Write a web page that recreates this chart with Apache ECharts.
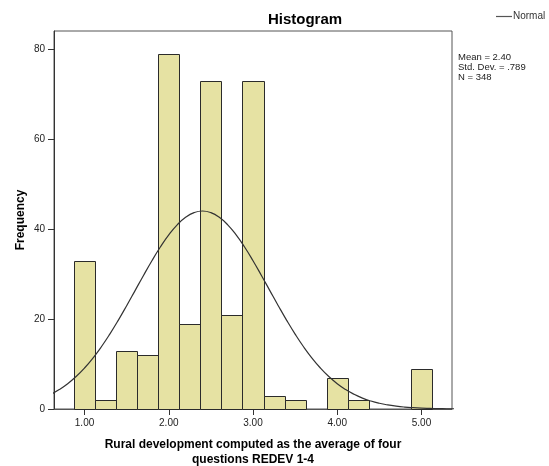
<!DOCTYPE html>
<html>
<head>
<meta charset="utf-8">
<script src="https://cdn.jsdelivr.net/npm/echarts@6/dist/echarts.min.js"></script>
<style>html,body{margin:0;padding:0;background:#fff;}#c{width:549px;height:466px;}</style>
</head>
<body>
<div id="c"></div>
<script>
// Histogram bins (centers) and frequencies
const binCenters = [1.00, 1.25, 1.50, 1.75, 2.00, 2.25, 2.50, 2.75, 3.00, 3.25, 3.50, 3.75, 4.00, 4.25, 4.50, 4.75, 5.00];
const frequencies = [33, 2, 13, 12, 79, 19, 73, 21, 73, 3, 2, 0, 7, 2, 0, 0, 9];
const binWidth = 0.25;

// Normal curve points
const normalX = [0.6, 0.7, 0.8, 0.9, 1.0, 1.1, 1.2, 1.3, 1.4, 1.5, 1.6, 1.7, 1.8, 1.9, 2.0, 2.1, 2.2, 2.3, 2.4,
  2.5, 2.6, 2.7, 2.8, 2.9, 3.0, 3.1, 3.2, 3.3, 3.4, 3.5, 3.6, 3.7, 3.8, 3.9, 4.0, 4.1, 4.2, 4.3, 4.4, 4.5,
  4.6, 4.7, 4.8, 4.9, 5.0, 5.1, 5.2, 5.3, 5.4];
const normalY = [3.26, 4.32, 5.63, 7.22, 9.11, 11.32, 13.84, 16.65, 19.70, 22.95, 26.31, 29.68, 32.95, 35.99, 38.69, 40.92, 42.60, 43.64, 44.0,
  43.64, 42.60, 40.92, 38.69, 35.99, 32.95, 29.68, 26.31, 22.95, 19.70, 16.65, 13.84, 11.32, 9.11, 7.22, 5.63, 4.32, 3.26, 2.42, 1.77, 1.27,
  0.90, 0.63, 0.43, 0.29, 0.19, 0.13, 0.08, 0.05, 0.03];

const xTicks = [1, 2, 3, 4, 5];
const yTicks = [0, 20, 40, 60, 80];
const statLines = ['Mean = 2.40', 'Std. Dev. = .789', 'N = 348'];

const FONT = '"Liberation Sans", Arial, sans-serif';
const chart = echarts.init(document.getElementById('c'), null, {renderer: 'canvas'});

const barData = binCenters.map((c, i) => [c, frequencies[i]]);
const lineData = normalX.map((x, i) => [x, normalY[i]]);

chart.setOption({
  animation: false,
  backgroundColor: '#fff',
  title: {
    text: 'Histogram',
    left: 300, top: 7, textAlign: 'center',
    textStyle: {fontFamily: FONT, fontSize: 15, fontWeight: 'bold', color: '#000'}
  },
  grid: {
    left: 54, right: 97, top: 31, bottom: 57,
    outerBoundsMode: 'none', containLabel: false,
    show: true, borderColor: '#555', borderWidth: 1, backgroundColor: 'transparent'
  },
  xAxis: {
    type: 'value', min: 0.6375, max: 5.3625,
    name: 'Rural development computed as the average of four\nquestions REDEV 1-4',
    nameLocation: 'middle', nameGap: 28, nameMoveOverlap: false,
    nameTextStyle: {fontFamily: FONT, fontSize: 12, fontWeight: 'bold', color: '#000', lineHeight: 15},
    axisLine: {show: true, lineStyle: {color: '#555'}},
    axisTick: {show: true, length: 6, lineStyle: {color: '#333'}, customValues: xTicks},
    axisLabel: {fontFamily: FONT, fontSize: 10, color: '#222', margin: 9, customValues: xTicks,
      formatter: v => v.toFixed(2)},
    splitLine: {show: false}
  },
  yAxis: {
    type: 'value', min: 0, max: 84,
    name: 'Frequency', nameLocation: 'middle', nameGap: 27, nameRotate: 90, nameMoveOverlap: false,
    nameTextStyle: {fontFamily: FONT, fontSize: 12, fontWeight: 'bold', color: '#000'},
    axisLine: {show: true, lineStyle: {color: '#333'}},
    axisTick: {show: true, length: 6, lineStyle: {color: '#333'}, customValues: yTicks},
    axisLabel: {fontFamily: FONT, fontSize: 10, color: '#222', margin: 9, customValues: yTicks},
    splitLine: {show: false}
  },
  graphic: [
    {type: 'line', shape: {x1: 496, y1: 16.5, x2: 512, y2: 16.5}, style: {stroke: '#555', lineWidth: 1.2}},
    {type: 'text', left: 513, top: 11, style: {text: 'Normal', fontFamily: FONT, fontSize: 10, fill: '#333'}},
    {type: 'text', left: 458, top: 52, style: {text: statLines.join('\n'), fontFamily: FONT, fontSize: 9.5, lineHeight: 10, fill: '#222'}}
  ],
  series: [
    {
      type: 'custom',
      name: 'Frequency',
      data: barData,
      encode: {x: 0, y: 1},
      renderItem: function (params, api) {
        const c = api.value(0), n = api.value(1);
        if (!n) return null;
        const p0 = api.coord([c - binWidth / 2, n]);
        const p1 = api.coord([c + binWidth / 2, 0]);
        return {
          type: 'rect',
          shape: {x: Math.round(p0[0]) + 0.5, y: Math.round(p0[1]) + 0.5,
                  width: Math.round(p1[0]) - Math.round(p0[0]), height: Math.round(p1[1]) - Math.round(p0[1])},
          style: {fill: '#e6e2a3', stroke: '#2b2b2b', lineWidth: 1}
        };
      },
      z: 2
    },
    {
      type: 'line',
      name: 'Normal',
      data: lineData,
      smooth: true,
      showSymbol: false,
      clip: true,
      lineStyle: {color: '#333', width: 1.2},
      z: 3
    }
  ]
});
</script>
</body>
</html>
